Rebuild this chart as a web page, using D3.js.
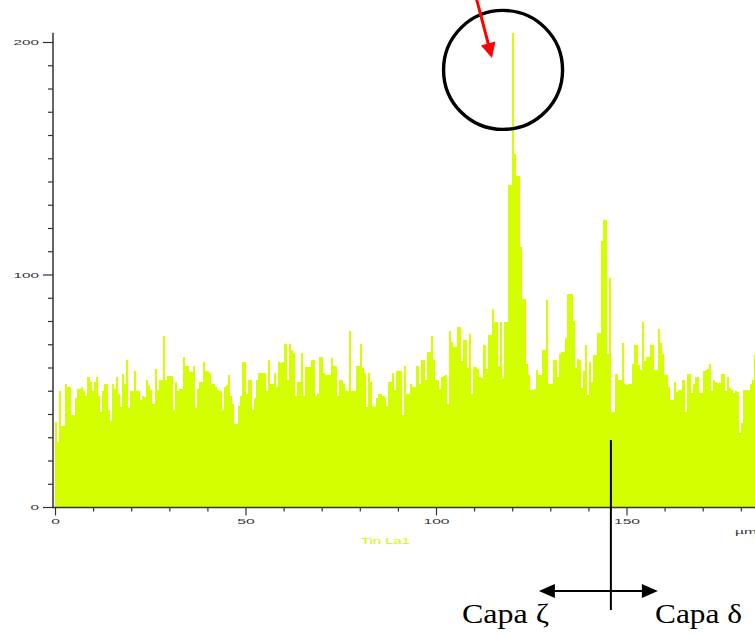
<!DOCTYPE html>
<html><head><meta charset="utf-8">
<script src="https://cdn.jsdelivr.net/npm/d3@7"></script>
<style>body{margin:0;background:#fff;overflow:hidden;} svg{display:block;}</style>
</head><body>
<script>
// Counts per position bin along the line scan (Tin La1)
const countsA = [36.7, 28, 49.8, 34.8, 34.8, 52.8, 51.7, 51.7, 39.5, 39.5,
  47, 50.7, 50.7, 51.7, 49.8, 47.8, 55.7, 53.8, 49.8, 53.8,
  55.7, 47.7, 40.7, 49.8, 52.7, 52.7, 41.7, 36.9, 52.7, 50.7,
  55.7, 48.8, 42.8, 57.4, 52.7, 63.4, 42.4, 49.8, 49.8, 58.6,
  49.8, 49.8, 46, 47.7, 47.1, 54.8, 52.4, 50.2, 44.5, 59.5,
  50.2, 54.5, 54.5, 73.7, 54.8, 56.5, 56.5, 56.5, 41.7, 53.8,
  49.8, 50.7, 50.7, 64.6, 60.5, 60.5, 58.1, 58.1, 60.5, 42.7,
  50.7, 53.8, 53.8, 62.4, 58.6, 58.6, 57.7, 53.1, 53.1, 51.7,
  50.2, 49.8, 41.7, 51.7];
const countsB = [52.4, 56.7, 47.7, 44.5, 35.9, 35.9, 43.4, 47.7, 62.4, 62.4,
  48.8, 54.5, 54.5, 41.7, 46.7, 54.5, 57.7, 57.7, 57.7, 57.7,
  49.8, 63.4, 52.8, 52.8, 57.7, 51.7, 62.4, 62, 62.4, 69.9,
  54.8, 69.9, 67.7, 66.3, 47.7, 53.8, 53.8, 66.3, 47.7, 60.3,
  60.3, 60.3, 63.4, 63.4, 47.7, 48.8, 64.6, 64.6, 57.7, 56.7,
  56.7, 56.7, 64.3, 60.5, 60.5, 47.7, 54.8, 54.8, 53.1, 49.8,
  49.8, 75.6, 49.8, 49.8, 60.5, 60.5, 69.9, 59.6, 57.7, 43.1,
  57.7, 53.8, 43.4, 42.8, 47, 48.8, 48.8, 47.7, 47.1, 43.4,
  53.8, 53.8, 57.7, 50.5, 58.6, 58.6];
const countsC = [58.5, 39.5, 60.5, 48.8, 48.8, 52.8, 51.6, 51.6, 60.5, 53.1,
  63.4, 63.4, 54.8, 66.6, 66.6, 73.4, 63.4, 54.8, 54.8, 50.9,
  55.9, 56.2, 56.6, 44.5, 75.7, 71, 68.8, 68.8, 77.4, 77.4,
  62.8, 71.7, 71.7, 59.9, 74.5, 48.8, 60.2, 60.2, 59.5, 55.9,
  55.6, 69.5, 59.5, 73.8, 73.8, 85.2, 79.5, 79.5, 60.5, 79.5,
  55.6, 79.5, 79.5, 138.6, 138.6,
  204, 151.8, 142.5, 142.5, 111.7, 89.5, 89.5, 61.3, 56.6, 50.5,
  50.5, 50.9, 58.8, 56.6, 56.6, 67.4, 67.4, 89.1, 52.8, 52.8,
  63.4, 63.4, 55.9, 65.9, 66.6, 66.6, 72.8, 91.7, 91.7, 91.7,
  80.2, 59.9, 63.8];
const countsD = [63.4, 51, 58.5, 69.8, 48.1, 62.4, 53.8, 65.5, 65.5,
  74.8, 74.8, 114.6, 123.5, 123.5, 65.7, 98.6, 41, 41, 57.4,
  54.5, 54.5, 70.7, 53.1, 52.4, 52.8, 52.8, 61.7, 69.8, 69.8,
  61, 58.8, 79.6, 62.7, 64.5, 64.5, 69.8, 69.8, 58.8, 58.8,
  76.7, 70.6, 65.7, 56.7, 56.7, 51.7, 46, 46, 53.8, 49.5,
  50.5, 50.5, 54.5, 41, 57.4, 57.4, 49.1, 52.8, 55.7, 55.7,
  49.1, 49.1, 58.5, 59.1, 59.5, 61.4, 50, 54.5, 53.8, 53.4,
  53.4, 57.4, 57.4, 50, 55.7, 51, 50.5, 49.1, 50, 49.5,
  31.9, 36.2, 50.5, 50.5, 50.5, 52.8, 54.5, 65.2, 65.2];
const counts = countsA.concat(countsB, countsC, countsD);
const binWidth = 0.533;              // µm per bin
const xMinorTicks = d3.range(0, 190, 10);
const xMajorTicks = [0, 50, 100, 150];
const yMinorTicks = d3.range(0, 210, 10);
const yMajorTicks = [0, 100, 200];
const xUnit = "µm";
const seriesName = "Tin La1";
const boundaryPos = 145.9;           // µm, interface between layers
const leftLayer = "Capa ζ";
const rightLayer = "Capa δ";
const peakPos = 117.6, peakMark = 188;

const W = 755, H = 634;
const barColor = "#d4ff00";
const axisColor = "#333";

const svg = d3.select("body").append("svg").attr("width", W).attr("height", H);

const x = d3.scaleLinear().domain([0, 150]).range([55, 626.5]);
const y = d3.scaleLinear().domain([0, 200]).range([507, 42]);

// bars
svg.append("g").attr("shape-rendering", "crispEdges")
  .selectAll("rect").data(counts).join("rect")
  .attr("x", (d, i) => x(i * binWidth))
  .attr("width", (d, i) => x((i + 1) * binWidth) - x(i * binWidth))
  .attr("y", d => y(d))
  .attr("height", d => y(0) - y(d))
  .attr("fill", barColor);

function stretch(sel, perChar) {
  sel.each(function () {
    const t = d3.select(this).text();
    if (t) d3.select(this).attr("textLength", t.length * perChar).attr("lengthAdjust", "spacingAndGlyphs");
  });
}

// y axis
const yg = svg.append("g").attr("transform", "translate(53,0)");
yg.append("g").call(d3.axisLeft(y).tickValues(yMinorTicks.filter(v => !yMajorTicks.includes(v))).tickSize(5).tickFormat(""))
  .call(g => g.select(".domain").remove());
yg.append("g").call(d3.axisLeft(y).tickValues(yMajorTicks).tickSize(10).tickPadding(4))
  .call(g => g.select(".domain").remove());
yg.append("line").attr("x1", 0).attr("x2", 0).attr("y1", y(0)).attr("y2", y(204))
  .attr("stroke", axisColor).attr("stroke-width", 1.5);
yg.selectAll(".tick line").attr("stroke", axisColor).attr("stroke-width", 1.2);
yg.selectAll(".tick text").attr("font-family", "Liberation Sans, Arial, sans-serif")
  .attr("font-size", 8).attr("fill", axisColor).call(stretch, 8.5);

// x axis
const xg = svg.append("g").attr("transform", "translate(0,507.5)");
xg.append("g").call(d3.axisBottom(x).tickValues(xMinorTicks.filter(v => !xMajorTicks.includes(v))).tickSize(4).tickFormat(""))
  .call(g => g.select(".domain").remove());
xg.append("g").call(d3.axisBottom(x).tickValues(xMajorTicks).tickSize(8).tickPadding(3))
  .call(g => g.select(".domain").remove());
xg.append("line").attr("x1", 52).attr("x2", W).attr("y1", 0).attr("y2", 0)
  .attr("stroke", axisColor).attr("stroke-width", 1.5);
xg.selectAll(".tick line").attr("stroke", axisColor).attr("stroke-width", 1.2);
xg.selectAll(".tick text").attr("font-family", "Liberation Sans, Arial, sans-serif")
  .attr("font-size", 8).attr("fill", axisColor).call(stretch, 8.7);

svg.append("text").attr("x", 735).attr("y", 534)
  .attr("font-family", "Liberation Sans, Arial, sans-serif").attr("font-size", 8).attr("fill", axisColor)
  .text(xUnit).attr("textLength", 22).attr("lengthAdjust", "spacingAndGlyphs");

svg.append("text").attr("x", 385.5).attr("y", 544).attr("text-anchor", "middle")
  .attr("font-family", "Liberation Sans, Arial, sans-serif").attr("font-size", 9).attr("fill", "#d4f500")
  .text(seriesName).attr("textLength", 49).attr("lengthAdjust", "spacingAndGlyphs");

// circle around peak
svg.append("circle").attr("cx", x(peakPos)).attr("cy", y(peakMark)).attr("r", 59.5)
  .attr("fill", "none").attr("stroke", "#000").attr("stroke-width", 3.4);

// red arrow
const tip = [492, 58], start = [476, -3];
const dx = tip[0] - start[0], dy = tip[1] - start[1], L = Math.hypot(dx, dy);
const ux = dx / L, uy = dy / L, hl = 15, hw = 7.5;
const bx = tip[0] - ux * hl, by = tip[1] - uy * hl;
svg.append("line").attr("x1", start[0]).attr("y1", start[1]).attr("x2", bx + ux).attr("y2", by + uy)
  .attr("stroke", "#ff0000").attr("stroke-width", 3);
svg.append("path").attr("d", `M${tip[0]},${tip[1]}L${bx - uy * hw},${by + ux * hw}L${bx + uy * hw},${by - ux * hw}Z`)
  .attr("fill", "#ff0000");

// boundary line and double arrow
const bX = x(boundaryPos);
svg.append("line").attr("x1", bX).attr("x2", bX).attr("y1", 440).attr("y2", 610)
  .attr("stroke", "#000").attr("stroke-width", 2);
const ay = 591, aL = bX - 72, aR = bX + 47;
svg.append("line").attr("x1", aL + 14).attr("x2", aR - 14).attr("y1", ay).attr("y2", ay)
  .attr("stroke", "#000").attr("stroke-width", 2);
svg.append("path").attr("d", `M${aL},${ay}L${aL + 16},${ay - 7}L${aL + 16},${ay + 7}Z`).attr("fill", "#000");
svg.append("path").attr("d", `M${aR},${ay}L${aR - 16},${ay - 7}L${aR - 16},${ay + 7}Z`).attr("fill", "#000");

svg.append("text").attr("x", 462).attr("y", 623)
  .attr("font-family", "Liberation Serif, Times New Roman, serif").attr("font-size", 28).attr("fill", "#000")
  .text(leftLayer).attr("textLength", 87).attr("lengthAdjust", "spacingAndGlyphs");
svg.append("text").attr("x", 655).attr("y", 623)
  .attr("font-family", "Liberation Serif, Times New Roman, serif").attr("font-size", 28).attr("fill", "#000")
  .text(rightLayer).attr("textLength", 87).attr("lengthAdjust", "spacingAndGlyphs");
</script>
</body></html>
